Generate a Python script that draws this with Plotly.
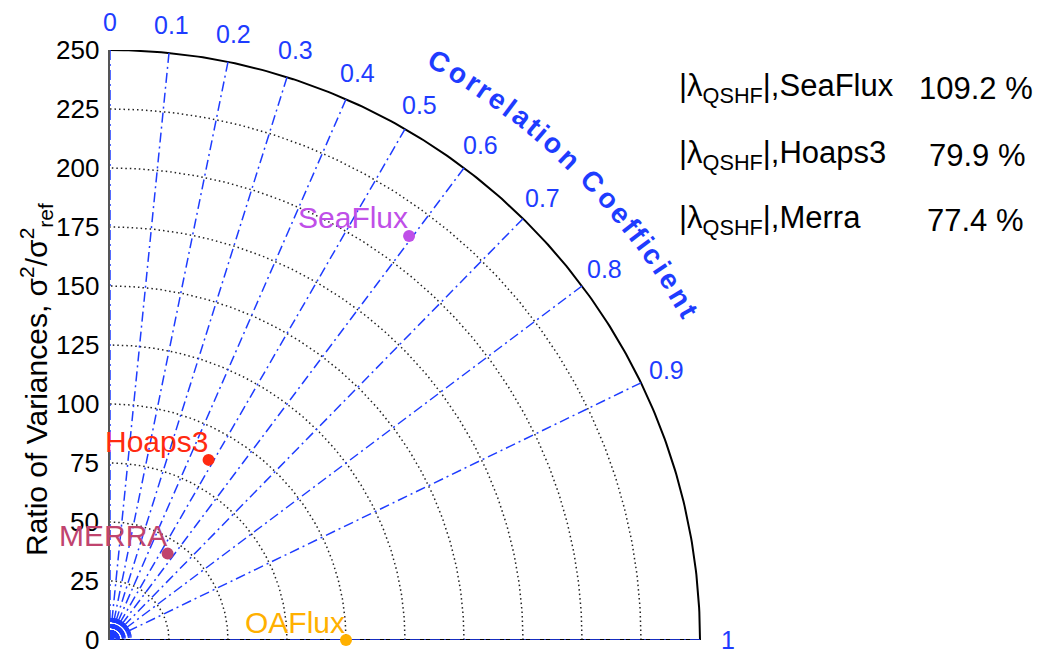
import numpy as np
import plotly.graph_objects as go

# ---- data -------------------------------------------------------------
models = ["SeaFlux", "Hoaps3", "MERRA", "OAFlux"]
variance_ratio = [213.0, 87.0, 44.0, 100.0]      # radial coordinate, %
correlation = [0.595, 0.48, 0.555, 1.0]          # angular coordinate
model_colors = ["#bf4fe8", "#ff2a10", "#c0446e", "#ffb000"]

corr_ticks = [0.0, 0.1, 0.2, 0.3, 0.4, 0.5, 0.6, 0.7, 0.8, 0.9, 1.0]
corr_tick_labels = ["0", "0.1", "0.2", "0.3", "0.4", "0.5", "0.6", "0.7", "0.8", "0.9", "1"]
corr_minor = [round(0.01 * k, 2) for k in range(1, 100) if k % 10]
ratio_ticks = [0, 25, 50, 75, 100, 125, 150, 175, 200, 225, 250]
ratio_tick_labels = [str(v) for v in ratio_ticks]
ratio_circles = [25, 50, 75, 100, 125, 150, 175, 200, 225]
r_max = 250

summary_names = ["SeaFlux", "Hoaps3", "Merra"]
summary_values = [109.2, 79.9, 77.4]

# ---- layout geometry ----------------------------------------------------
W, H = 1049, 650
ML, MR, MT, MB = 110, 0, 50, 10
plot_w, plot_h = W - ML - MR, H - MT - MB
scale = plot_h / r_max                 # pixels per data unit
x_max = plot_w / scale

BLUE = "#1e3cff"
SANS = "Liberation Sans, Arial, sans-serif"
DASHDOT = "10px,4px,2px,4px"


def polar_xy(r, c):
    th = np.arccos(np.clip(c, -1, 1))
    return r * np.cos(th), r * np.sin(th)


def data_to_paper(x, y):
    return x / x_max, y / r_max


def px_to_paper(px, py):
    return (px - ML) / plot_w, (H - MB - py) / plot_h


fig = go.Figure()

# dotted circles of constant variance ratio
th = np.linspace(0, np.pi / 2, 200)
for r in ratio_circles:
    fig.add_trace(go.Scatter(x=r * np.cos(th), y=r * np.sin(th), mode="lines",
                             line=dict(color="#222222", width=1.5, dash="1.5px,3px"),
                             hoverinfo="skip", showlegend=False))

# outer boundary and base line
fig.add_trace(go.Scatter(x=r_max * np.cos(th), y=r_max * np.sin(th), mode="lines",
                         line=dict(color="black", width=2), hoverinfo="skip",
                         showlegend=False, cliponaxis=False))
fig.add_trace(go.Scatter(x=[0, r_max], y=[0, 0], mode="lines",
                         line=dict(color="black", width=2), hoverinfo="skip",
                         showlegend=False, cliponaxis=False))

# short minor correlation spokes near the origin
for c in corr_minor:
    x1, y1 = polar_xy(10, c)
    fig.add_trace(go.Scatter(x=[0, x1], y=[0, y1], mode="lines",
                             line=dict(color=BLUE, width=1.2, dash="4px,2px"),
                             hoverinfo="skip", showlegend=False))

# major correlation spokes
for c in corr_ticks:
    x1, y1 = polar_xy(r_max, c)
    fig.add_trace(go.Scatter(x=[0, x1], y=[0, y1], mode="lines",
                             line=dict(color=BLUE, width=1.5, dash=DASHDOT),
                             hoverinfo="skip", showlegend=False, cliponaxis=False))

# model points
mx, my = polar_xy(np.array(variance_ratio), np.array(correlation))
fig.add_trace(go.Scatter(x=mx, y=my, mode="markers",
                         marker=dict(color=model_colors, size=12),
                         hovertext=models, showlegend=False, cliponaxis=False))

annotations = []

# variance-ratio tick labels
for v, lab in zip(ratio_ticks, ratio_tick_labels):
    xp = (101 - ML) / plot_w
    annotations.append(dict(x=xp, y=v / r_max, xref="paper", yref="paper",
                            text=lab, showarrow=False,
                            xanchor="right", yanchor="middle",
                            font=dict(family=SANS, size=26, color="black")))

# correlation tick labels
for c, lab in zip(corr_ticks, corr_tick_labels):
    xp, yp = data_to_paper(*polar_xy(262, c))
    annotations.append(dict(x=xp, y=yp, xref="paper", yref="paper",
                            text=lab, showarrow=False,
                            xanchor="center", yanchor="middle",
                            font=dict(family=SANS, size=25, color=BLUE)))

# model labels
for name, x, y, col in zip(models, mx, my, model_colors):
    annotations.append(dict(x=x, y=y, text=name, showarrow=False,
                            xanchor="right", yanchor="middle", xshift=1, yshift=18,
                            font=dict(family=SANS, size=30, color=col)))

# curved axis title
title = "Correlation Coefficient"
bold_w = {"C": .722, "o": .611, "r": .389, "e": .556, "l": .278, "a": .556,
          "t": .333, "i": .278, "n": .611, " ": .278, "f": .333, "c": .556}
widths = np.array([bold_w[ch] for ch in title])
centers = np.cumsum(widths) - widths / 2
t0, t1 = 60.4, 29.6
angles = t0 + (centers - centers[0]) / (centers[-1] - centers[0]) * (t1 - t0)
for ch, ang in zip(title, angles):
    if ch == " ":
        continue
    a = np.deg2rad(ang)
    xp, yp = data_to_paper(282 * np.cos(a), 282 * np.sin(a))
    annotations.append(dict(x=xp, y=yp, xref="paper", yref="paper", text=ch,
                            showarrow=False, textangle=90 - ang,
                            xanchor="center", yanchor="middle",
                            font=dict(family=SANS, size=28, color=BLUE, weight="bold")))

# summary block on the right
row_y = [88, 155, 220]
value_x = [917, 927, 925]
for name, val, py, vx in zip(summary_names, summary_values, row_y, value_x):
    xp, yp = px_to_paper(677, py)
    annotations.append(dict(x=xp, y=yp, xref="paper", yref="paper",
                            text="|λ<sub>QSHF</sub>|," + name, showarrow=False,
                            xanchor="left", yanchor="middle",
                            font=dict(family=SANS, size=31, color="black")))
    xp, yp = px_to_paper(vx, py)
    annotations.append(dict(x=xp, y=yp, xref="paper", yref="paper",
                            text=f"{val:.1f} %", showarrow=False,
                            xanchor="left", yanchor="middle",
                            font=dict(family=SANS, size=31, color="black")))

# radial axis title
xp, yp = px_to_paper(36, 380)
annotations.append(dict(x=xp, y=yp, xref="paper", yref="paper",
                        text="Ratio of Variances, σ<sup>2</sup>/σ<sup>2</sup><sub>ref</sub>",
                        showarrow=False, textangle=-90,
                        xanchor="center", yanchor="middle",
                        font=dict(family=SANS, size=30, color="black")))

fig.update_layout(
    width=W, height=H,
    margin=dict(l=ML, r=MR, t=MT, b=MB),
    paper_bgcolor="white", plot_bgcolor="white",
    annotations=annotations,
    xaxis=dict(range=[0, x_max], visible=False, fixedrange=True),
    yaxis=dict(range=[0, r_max], showticklabels=False,
               showgrid=False, zeroline=False, showline=True,
               linecolor="#555555", linewidth=1.5, ticks="",
               fixedrange=True),
)

fig.write_html("out.html")
